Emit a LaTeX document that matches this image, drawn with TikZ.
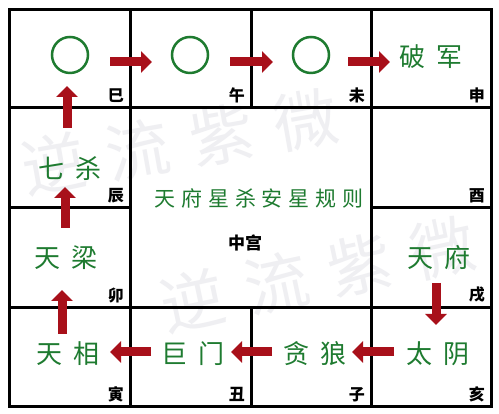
\documentclass[tikz,border=0pt]{standalone}
\usepackage{fontspec}
\usepackage{xcolor}
\usepackage{tikz}
\usetikzlibrary{calc,arrows.meta}
\newfontfamily\cjk{Noto Sans CJK SC}
\newfontfamily\cjkstar[LetterSpace=40]{Noto Sans CJK SC}
\newfontfamily\cjktitle[LetterSpace=28]{Noto Sans CJK SC}
\newfontfamily\cjkmark[LetterSpace=33]{Noto Sans CJK SC}
\definecolor{star}{HTML}{1E7B30}
\definecolor{arrowred}{HTML}{A8101A}
\definecolor{mark}{HTML}{EFEFF2}
\tikzset{
  grid/.style={draw=black, line width=3pt},
  moveto/.style={draw=arrowred, line width=9pt, -{Triangle[length=11pt,width=21pt]}},
  ring/.style={circle, draw=star, line width=2.5pt, minimum size=36pt, inner sep=0pt},
  starname/.style={text=star, font=\cjkstar\fontsize{26}{26}\selectfont, inner sep=0pt},
  title/.style={text=star, font=\cjktitle\fontsize{21}{21}\selectfont, inner sep=0pt},
  branch/.style={text=black, font=\cjk\bfseries\fontsize{16}{16}\selectfont, inner sep=0pt, anchor=south east},
  watermark/.style={text=mark, font=\cjkmark\fontsize{64}{64}\selectfont, inner sep=0pt}
}

\begin{document}
\begin{tikzpicture}[x=1pt,y=1pt]
  \useasboundingbox (0,0) rectangle (499,414);
  \fill[white] (0,0) rectangle (499,414);

  % faint watermark
  \node[watermark, rotate=10] (mark1) at (180,272) {逆流紫微};
  \node[watermark, rotate=12] (mark2) at (318,140) {逆流紫微};

  % palace grid
  \draw[grid] (9,7) rectangle (491,404);
  \draw[grid] (9,306) -- (491,306);
  \draw[grid] (9,106) -- (491,106);
  \draw[grid] (9,206) -- (130,206);
  \draw[grid] (371,206) -- (491,206);
  \draw[grid] (130,7) -- (130,404);
  \draw[grid] (371,7) -- (371,404);
  \draw[grid] (251,306) -- (251,404);
  \draw[grid] (251,7) -- (251,106);

  % stars
  \node[ring] (si) at (70,359) {};
  \node[ring] (wu) at (190,359) {};
  \node[ring] (wei) at (311,359) {};
  \node[starname] (shen) at (431,357) {破军};
  \node[starname] (chen) at (70,245) {七杀};
  \node[starname] (mao) at (66,156) {天梁};
  \node[starname] (xu) at (439,156) {天府};
  \node[starname] (yin) at (68,60) {天相};
  \node[starname] (chou) at (193,60) {巨门};
  \node[starname] (zi) at (315,60) {贪狼};
  \node[starname] (hai) at (438,60) {太阴};

  % centre palace
  \node[title] (rule) at (259,216) {天府星杀安星规则};
  \node[font=\cjk\bfseries\fontsize{17}{17}\selectfont] (zhong) at (245,171) {中宫};

  % earthly branches
  \node[branch] (b-si) at (124,311) {巳};
  \node[branch] (b-wu) at (245,311) {午};
  \node[branch] (b-wei) at (365,311) {未};
  \node[branch] (b-shen) at (485,311) {申};
  \node[branch] (b-chen) at (124,211) {辰};
  \node[branch] (b-you) at (485,211) {酉};
  \node[branch] (b-mao) at (124,111) {卯};
  \node[branch] (b-xu) at (485,111) {戌};
  \node[branch] (b-yin) at (124,12) {寅};
  \node[branch] (b-chou) at (245,12) {丑};
  \node[branch] (b-zi) at (365,12) {子};
  \node[branch] (b-hai) at (485,12) {亥};

  % order of placing
  \draw[moveto, shorten <=40pt, shorten >=38pt] ([yshift=-7pt]si.center) -- ([yshift=-7pt]wu.center);
  \draw[moveto, shorten <=40pt, shorten >=38pt] ([yshift=-7pt]wu.center) -- ([yshift=-7pt]wei.center);
  \draw[moveto, shorten <=37pt, shorten >=41pt] ([yshift=-7pt]wei.center) -- ([yshift=-7pt]wei.center -| shen.center);
  \draw[moveto, shorten <=41pt, shorten >=31pt] ([xshift=-3pt]chen.center) -- ([xshift=-3pt]chen.center |- si.center);
  \draw[moveto, shorten <=30pt, shorten >=18pt] ([xshift=-1pt]mao.center) -- ([xshift=-1pt]mao.center |- chen.center);
  \draw[moveto, shorten <=20pt, shorten >=32pt] ([xshift=-6pt]yin.center) -- ([xshift=-6pt]yin.center |- mao.center);
  \draw[moveto, shorten <=25pt, shorten >=29pt] ([xshift=-3pt]xu.center) -- ([xshift=-3pt]xu.center |- hai.center);
  \draw[moveto, shorten <=44pt, shorten >=37pt] ([yshift=2pt]hai.center) -- ([yshift=2pt]hai.center -| zi.center);
  \draw[moveto, shorten <=43pt, shorten >=38pt] ([yshift=2pt]zi.center) -- ([yshift=2pt]zi.center -| chou.center);
  \draw[moveto, shorten <=42pt, shorten >=42pt] ([yshift=2pt]chou.center) -- ([yshift=2pt]chou.center -| yin.center);
\end{tikzpicture}
\end{document}
